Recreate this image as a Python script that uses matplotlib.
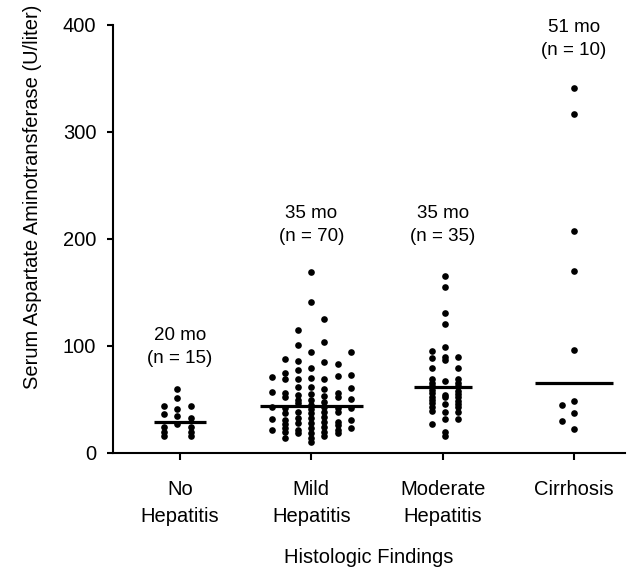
import matplotlib
matplotlib.use("Agg")
import matplotlib.pyplot as plt
import numpy as np

plt.rcParams['font.family'] = ['Liberation Sans', 'DejaVu Sans']

categories = ["No\nHepatitis", "Mild\nHepatitis", "Moderate\nHepatitis", "Cirrhosis"]
durations = ["20 mo", "35 mo", "35 mo", "51 mo"]
counts = ["(n = 15)", "(n = 70)", "(n = 35)", "(n = 10)"]
medians = [29, 44, 61, 65]

# values per dot column, left to right, for each group
no_hepatitis = [
    [43.7, 36.2, 23.7, 19.5, 15.5],
    [59.6, 51.5, 40.9, 34.3, 26.5],
    [43.7, 32.0, 23.7, 19.5, 15.5],
]
mild_hepatitis = [
    [70.5, 56.5, 42.5, 31.2, 21.2],
    [87.4, 75.0, 68.5, 56.1, 52.4, 41.5, 36.9, 30.6, 26.6, 22.8, 19.1, 14.0],
    [114.8, 100.7, 85.8, 77.0, 68.5, 61.0, 54.0, 49.3, 46.2, 38.4, 32.2, 27.5, 21.2, 18.1],
    [168.7, 141.3, 94.5, 79.0, 69.6, 61.7, 55.0, 49.3, 45.0, 41.0, 36.9, 32.2, 27.5, 23.0, 18.1, 13.5, 10.0],
    [124.8, 103.8, 85.1, 69.0, 60.0, 53.0, 47.7, 43.0, 38.4, 33.7, 29.0, 24.3, 19.6, 15.6],
    [82.7, 71.4, 55.8, 52.0, 42.0, 38.4, 29.0, 25.5, 21.0, 18.0],
    [94.5, 72.7, 60.2, 50.0, 42.0, 31.0, 22.8],
]
moderate_hepatitis = [
    [95.4, 88.9, 79.0, 68.7, 65.5, 62.4, 58.7, 55.6, 52.4, 49.3, 46.2, 43.0, 39.3, 26.8],
    [165.6, 154.7, 131.0, 120.1, 98.6, 89.8, 86.7, 67.1, 54.0, 51.8, 45.6, 38.4, 31.2, 19.6, 15.6],
    [89.2, 79.0, 68.7, 65.5, 62.4, 58.0, 54.9, 51.8, 48.6, 45.6, 42.5, 38.4, 31.2],
]
cirrhosis = [
    [44.6, 30.0],
    [341.0, 316.6, 207.4, 170.0, 96.0, 48.7, 37.0, 22.0],
]
groups = [no_hepatitis, mild_hepatitis, moderate_hepatitis, cirrhosis]

W, H = 629, 573
fig = plt.figure(figsize=(W / 100, H / 100), dpi=100)
left_px, right_px, top_px, bottom_px = 113, 625, 25, 452.7
ax = fig.add_axes([left_px / W, 1 - bottom_px / H,
                   (right_px - left_px) / W, (bottom_px - top_px) / H])

col_step = 0.1
group_shift = [-0.02, 0.0, 0.02, 0.0]
half_widths = [0.2, 0.39, 0.22, 0.3]
for gi, cols in enumerate(groups):
    n = len(cols)
    centre = gi + 1 + group_shift[gi]
    for ci, vals in enumerate(cols):
        off = (ci - (n - 1) / 2) * col_step
        if gi == 3:
            off = (ci - 1) * 0.09
        ax.plot(np.full(len(vals), centre + off), vals, 'o', color='black',
                markersize=4.8, markeredgewidth=0, clip_on=False, zorder=3)
    ax.plot([gi + 1 - half_widths[gi], gi + 1 + half_widths[gi]],
            [medians[gi], medians[gi]], color='black', lw=2.3, solid_capstyle='butt',
            zorder=4)

label_y = [80, 194, 194, 368]
for gi in range(4):
    ax.text(gi + 1, label_y[gi], durations[gi] + "\n" + counts[gi], ha='center',
            va='bottom', fontsize=13.5, linespacing=1.45)

ax.set_xlim(1 - 67 / 131.3, 4 + 51 / 131.3)
ax.set_ylim(0, 400)
ax.set_yticks([0, 100, 200, 300, 400])
ax.set_xticks([1, 2, 3, 4])
ax.set_xticklabels(categories, fontsize=14.5, linespacing=1.5)
ax.tick_params(axis='y', labelsize=14.5, length=4, width=1.5, pad=8)
ax.tick_params(axis='x', length=5, width=1.5, pad=15)
for s in ['top', 'right']:
    ax.spines[s].set_visible(False)
for s in ['left', 'bottom']:
    ax.spines[s].set_linewidth(1.5)

ax.set_ylabel("Serum Aspartate Aminotransferase (U/liter)", fontsize=14.5)
ax.yaxis.set_label_coords((42 - left_px) / (right_px - left_px),
                          (bottom_px - 197) / (bottom_px - top_px))
ax.set_xlabel("Histologic Findings", fontsize=14.5, labelpad=16)

fig.savefig("out.png", dpi=100)
